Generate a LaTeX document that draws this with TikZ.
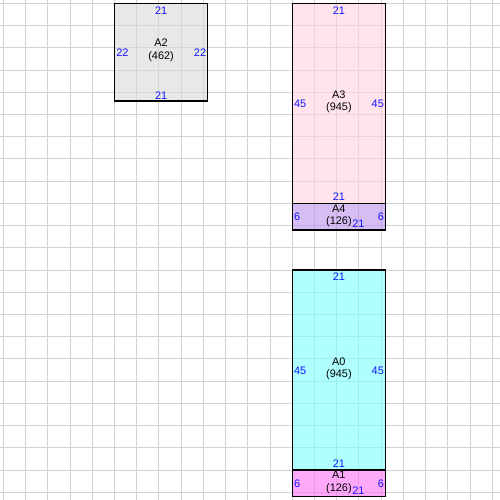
\documentclass[tikz,border=0pt]{standalone}
\usepackage{fontspec}
\setmainfont{Liberation Sans}
\definecolor{gridc}{RGB}{210,210,210}
\definecolor{numc}{RGB}{20,20,255}
\definecolor{fAtwo}{RGB}{217,217,217}
\definecolor{fAthree}{RGB}{255,210,223}
\definecolor{fAfour}{RGB}{188,147,238}
\definecolor{fAzero}{RGB}{122,255,255}
\definecolor{fAone}{RGB}{255,113,247}
\begin{document}
\begin{tikzpicture}[x=1mm,y=-1mm,
  room/.style={draw=black,line width=0.8pt,fill opacity=0.6},
  nm/.style={font=\fontsize{7}{8}\selectfont,align=center,text=black,inner sep=0pt},
  num/.style={font=\fontsize{7}{8}\selectfont,text=numc,inner sep=0pt}]
\useasboundingbox (-0.75,-0.75) rectangle (111.75,111.75);
\fill[white] (-0.75,-0.75) rectangle (111.75,111.75);
\foreach \k in {0,5,...,110}{
  \draw[gridc,line width=0.6pt] (\k,-0.75) -- (\k,111.75);
  \draw[gridc,line width=0.6pt] (-0.75,\k) -- (111.75,\k);
}
% rooms
\path[room,fill=fAtwo] (25,0) rectangle (46,22);
\path[room,fill=fAthree] (65,0) rectangle (86,45);
\path[room,fill=fAfour] (65,45) rectangle (86,51);
\path[room,fill=fAzero] (65,60) rectangle (86,105);
\path[room,fill=fAone] (65,105) rectangle (86,111);
% A2
\node[nm] (a2) at (35.5,10.6) {A2\\(462)};
\node[num] (a2t) at (35.5,1.6) {21};
\node[num] (a2b) at (35.5,20.8) {21};
\node[num,anchor=west] (a2l) at (25.35,11) {22};
\node[num,anchor=east] (a2r) at (45.7,11) {22};
% A3
\node[nm] (a3) at (75.5,22.2) {A3\\(945)};
\node[num] (a3t) at (75.5,1.6) {21};
\node[num] (a3b) at (75.5,43.6) {21};
\node[num,anchor=west] (a3l) at (65.35,22.6) {45};
\node[num,anchor=east] (a3r) at (85.7,22.6) {45};
% A4
\node[nm] (a4) at (75.5,47.8) {A4\\(126)};
\node[num,anchor=west] (a4l) at (65.35,48.1) {6};
\node[num,anchor=east] (a4r) at (85.7,48.1) {6};
\node[num] (a4b) at (79.9,49.6) {21};
% A0
\node[nm] (a0) at (75.5,82.2) {A0\\(945)};
\node[num] (a0t) at (75.5,61.6) {21};
\node[num] (a0b) at (75.5,103.6) {21};
\node[num,anchor=west] (a0l) at (65.35,82.6) {45};
\node[num,anchor=east] (a0r) at (85.7,82.6) {45};
% A1
\node[nm] (a1) at (75.5,107.8) {A1\\(126)};
\node[num,anchor=west] (a1l) at (65.35,108.1) {6};
\node[num,anchor=east] (a1r) at (85.7,108.1) {6};
\node[num] (a1b) at (79.9,109.6) {21};
\end{tikzpicture}
\end{document}
